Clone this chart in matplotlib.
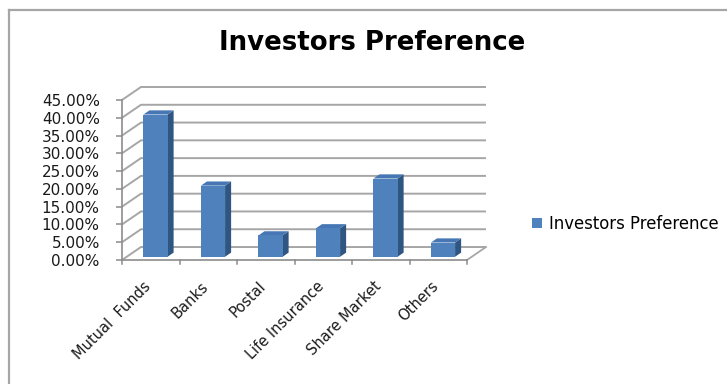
import matplotlib
matplotlib.use("Agg")
import matplotlib.pyplot as plt
from matplotlib.patches import Polygon
from matplotlib.lines import Line2D
from matplotlib.transforms import ScaledTranslation
import numpy as np

# Chart data
categories = ["Mutual  Funds", "Banks", "Postal", "Life Insurance", "Share Market", "Others"]
values = [40.0, 20.0, 6.0, 8.0, 22.0, 4.0]          # percent
y_ticks = [0, 5, 10, 15, 20, 25, 30, 35, 40, 45]
series_name = "Investors Preference"
title = "Investors Preference"

# Colours
FRONT = "#4f81bd"
SIDE = "#2f5581"
TOP = "#4677b4"
GRID = "#a6a6a6"
AXIS = "#8c8c8c"
TEXT = "#1a1a1a"

W, H = 727, 384
fig = plt.figure(figsize=(W / 100, H / 100), dpi=100)

# Outer chart frame (only left and top edges fall inside the canvas)
fig.add_artist(Line2D([9 / W, 9 / W], [0, 1 - 10 / H], transform=fig.transFigure,
                      color="#a6a6a6", lw=1.6))
fig.add_artist(Line2D([9 / W, 1], [1 - 10 / H, 1 - 10 / H], transform=fig.transFigure,
                      color="#a6a6a6", lw=1.6))

# Plot area: front floor starts at (122, 260) px, back wall reaches (486, 87) px
x0_px, x1_px, y_bot_px, y_top_px = 122, 486, 260, 87
ax = fig.add_axes([x0_px / W, 1 - y_bot_px / H, (x1_px - x0_px) / W, (y_bot_px - y_top_px) / H])

n = len(categories)
depth_dx = 0.33   # perspective offset of back wall (category units)
depth_dy = 3.65   # perspective offset of back wall (percent units)
ax.set_xlim(0, n + depth_dx)
ax.set_ylim(0, 45 + depth_dy)
for s in ax.spines.values():
    s.set_visible(False)

# Side wall + back wall gridlines
for v in y_ticks:
    ax.plot([0, depth_dx, n + depth_dx], [v, v + depth_dy, v + depth_dy],
            color=GRID, lw=1.4, solid_capstyle="butt", zorder=1, clip_on=False)
# Floor right edge
ax.plot([n, n + depth_dx], [0, depth_dy], color=GRID, lw=1.3, zorder=1, clip_on=False)
# Front value axis and category axis
ax.plot([0, 0], [0, 45], color=AXIS, lw=1.2, zorder=2, clip_on=False)
ax.plot([0, n], [0, 0], color=AXIS, lw=1.2, zorder=2, clip_on=False)
# Category tick marks at boundaries
for b in range(n + 1):
    ax.plot([b, b], [0, -1.2], color=AXIS, lw=1.1, zorder=2, clip_on=False)

# Bars: front faces through ax.bar, side/top faces from the same values
centers = np.arange(n) + 0.5
shift_x = 0.25 * depth_dx
shift_y = 0.25 * depth_dy
bar_w = 0.42
bar_dx = 0.105
bar_dy = 1.17
ax.bar(centers + shift_x, values, width=bar_w, bottom=shift_y, color=FRONT,
       edgecolor="none", zorder=4)
for c, v in zip(centers, values):
    xl = c + shift_x - bar_w / 2
    xr = c + shift_x + bar_w / 2
    yb = shift_y
    yt = shift_y + v
    ax.add_patch(Polygon([(xr, yb), (xr + bar_dx, yb + bar_dy), (xr + bar_dx, yt + bar_dy), (xr, yt)],
                         closed=True, facecolor=SIDE, edgecolor="none", zorder=3))
    ax.add_patch(Polygon([(xl, yt), (xr, yt), (xr + bar_dx, yt + bar_dy), (xl + bar_dx, yt + bar_dy)],
                         closed=True, facecolor=TOP, edgecolor="none", zorder=3))

# Value axis labels
ax.set_yticks(y_ticks)
ax.set_yticklabels([f"{v:.2f}%" for v in y_ticks], fontsize=11, color=TEXT)
ax.tick_params(axis="y", length=4, width=1.1, color=AXIS, pad=12)

# Category labels, rotated 45 degrees and hanging below the floor
ax.set_xticks([])
label_offset = ScaledTranslation(-2 / 100, -24 / 100, fig.dpi_scale_trans)
for c, name in zip(centers, categories):
    ax.text(c, 0, name, transform=ax.transData + label_offset, rotation=45,
            rotation_mode="anchor", ha="right", va="center", fontsize=10.5,
            color=TEXT, clip_on=False)

# Title
fig.text(372 / W, 1 - 43 / H, title, ha="center", va="center", fontsize=18.7,
         fontweight="bold", color="#000000")

# Legend
handle = plt.Rectangle((0, 0), 1, 1, facecolor=FRONT, edgecolor="none")
fig.legend([handle], [series_name], loc="center left", bbox_to_anchor=(532 / W, 1 - 224 / H),
           frameon=False, fontsize=11.9, handlelength=0.6, handleheight=0.6,
           handletextpad=0.4, borderpad=0, borderaxespad=0)

fig.savefig("out.png", dpi=100, facecolor="white")
